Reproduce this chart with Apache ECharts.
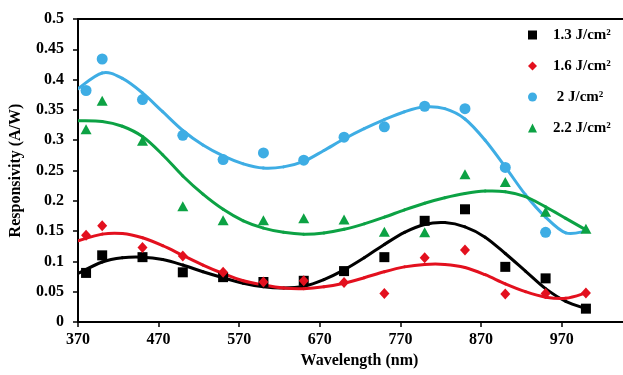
<!DOCTYPE html>
<html>
<head>
<meta charset="utf-8">
<script src="https://cdn.jsdelivr.net/npm/echarts@6/dist/echarts.min.js"></script>
<style>
html,body{margin:0;padding:0;background:#fff;}
#chart{width:623px;height:375px;}
</style>
</head>
<body>
<div id="chart"></div>
<script>
// Measured data points (wavelength in nm)
const wavelengths = [380, 400, 450, 500, 550, 600, 650, 700, 750, 800, 850, 900, 950, 1000];
const resp13 = [0.081, 0.110, 0.107, 0.082, 0.074, 0.066, 0.068, 0.084, 0.107, 0.167, 0.186, 0.091, 0.072, 0.022];
const resp16 = [0.143, 0.159, 0.123, 0.109, 0.082, 0.066, 0.068, 0.065, 0.047, 0.106, 0.119, 0.046, 0.047, 0.048];
const resp20 = [0.382, 0.434, 0.367, 0.308, 0.268, 0.279, 0.267, 0.305, 0.322, 0.356, 0.352, 0.255, 0.148, null];
const resp22 = [0.318, 0.365, 0.299, 0.191, 0.168, 0.168, 0.171, 0.169, 0.149, 0.148, 0.244, 0.231, 0.182, 0.154];

// Trend curves
const trendX = [370, 400, 425, 450, 475, 500, 525, 550, 575, 600, 625, 650, 675, 700, 725, 750, 775, 800, 825, 850, 875, 900, 925, 950, 975, 1000];
const trend13 = [0.080, 0.099, 0.106, 0.107, 0.103, 0.094, 0.083, 0.073, 0.064, 0.058, 0.056, 0.059, 0.070, 0.086, 0.106, 0.128, 0.148, 0.161, 0.164, 0.157, 0.140, 0.113, 0.084, 0.055, 0.034, 0.022];
const trend16 = [0.134, 0.145, 0.146, 0.139, 0.126, 0.110, 0.094, 0.080, 0.068, 0.061, 0.056, 0.055, 0.058, 0.064, 0.073, 0.083, 0.091, 0.095, 0.095, 0.090, 0.078, 0.063, 0.050, 0.041, 0.039, 0.048];
const trend20 = [0.385, 0.411, 0.402, 0.378, 0.347, 0.316, 0.292, 0.274, 0.261, 0.254, 0.256, 0.265, 0.283, 0.302, 0.319, 0.334, 0.347, 0.355, 0.352, 0.335, 0.300, 0.256, 0.210, 0.173, 0.147, 0.150];
const trend22 = [0.332, 0.331, 0.323, 0.306, 0.276, 0.241, 0.211, 0.186, 0.167, 0.155, 0.148, 0.145, 0.147, 0.153, 0.162, 0.173, 0.185, 0.196, 0.205, 0.212, 0.216, 0.215, 0.207, 0.190, 0.171, 0.152];

const seriesNames = ['1.3 J/cm²', '1.6 J/cm²', ' 2 J/cm²', '2.2 J/cm²'];
const colors = ['#000000', '#e3101e', '#3eade4', '#0ca244'];
const symbols = ['rect', 'diamond', 'circle', 'triangle'];
const symbolSizes = [10, [10, 11], 11, [11, 10]];
const pointSets = [resp13, resp16, resp20, resp22];
const trendSets = [trend13, trend16, trend20, trend22];

const FONT = 'Liberation Serif';
const zip = (xs, ys) => xs.map((x, i) => [x, ys[i]]).filter(p => p[1] !== null);

// Smooth curve through the read trend points (Catmull-Rom segments drawn via the axes' coordinates)
function makeTrendRenderer(color) {
  return function (params, api) {
    const i = params.dataIndex;
    const n = params.dataInsideLength !== undefined ? null : null;
    const data = this_data[params.seriesIndex];
    if (i >= data.length - 1) return null;
    const p = k => api.coord(data[Math.max(0, Math.min(data.length - 1, k))]);
    const P0 = p(i - 1), P1 = p(i), P2 = p(i + 1), P3 = p(i + 2);
    return {
      type: 'bezierCurve',
      shape: {
        x1: P1[0], y1: P1[1], x2: P2[0], y2: P2[1],
        cpx1: P1[0] + (P2[0] - P0[0]) / 6, cpy1: P1[1] + (P2[1] - P0[1]) / 6,
        cpx2: P2[0] - (P3[0] - P1[0]) / 6, cpy2: P2[1] - (P3[1] - P1[1]) / 6
      },
      style: { stroke: color, lineWidth: 3, fill: null, lineCap: 'round' },
      silent: true
    };
  };
}

const this_data = {};
const series = [];
trendSets.forEach((t, i) => {
  const d = zip(trendX, t);
  this_data[series.length] = d;
  series.push({
    name: seriesNames[i] + ' trend',
    type: 'custom',
    renderItem: makeTrendRenderer(colors[i]),
    data: d,
    encode: { x: 0, y: 1 },
    clip: true,
    silent: true,
    z: 2
  });
});
pointSets.forEach((p, i) => {
  series.push({
    name: seriesNames[i],
    type: 'scatter',
    symbol: symbols[i],
    symbolSize: symbolSizes[i],
    data: zip(wavelengths, p),
    itemStyle: { color: colors[i], opacity: 1 },
    z: 3
  });
});

const chart = echarts.init(document.getElementById('chart'), null, { renderer: 'canvas' });
chart.setOption({
  animation: false,
  backgroundColor: '#fff',
  grid: { left: 77, right: 0, top: 19, bottom: 53 },
  legend: {
    data: seriesNames,
    orient: 'vertical',
    left: 523,
    top: 22,
    itemWidth: 9,
    itemHeight: 9,
    itemGap: 15,
    textStyle: { fontFamily: FONT, fontWeight: 'bold', fontSize: 15, color: '#000', lineHeight: 16, padding: [0, 0, 0, 11] }
  },
  xAxis: [{
    type: 'value',
    min: 370,
    max: 1046,
    interval: 100,
    name: 'Wavelength (nm)',
    nameLocation: 'middle',
    nameGap: 31,
    nameTextStyle: { fontFamily: FONT, fontWeight: 'bold', fontSize: 16, color: '#000', padding: [0, 0, 0, 18] },
    axisLine: { lineStyle: { color: '#000', width: 2 } },
    axisTick: { show: true, length: 5, lineStyle: { color: '#000', width: 1.5 } },
    axisLabel: {
      showMaxLabel: false,
      margin: 10,
      fontFamily: FONT, fontWeight: 'bold', fontSize: 16, color: '#000'
    },
    splitLine: { show: false }
  }, {
    type: 'value',
    position: 'top',
    min: 370,
    max: 1046,
    axisLine: { show: true, lineStyle: { color: '#000', width: 2 } },
    axisTick: { show: false },
    axisLabel: { show: false },
    splitLine: { show: false }
  }],
  yAxis: {
    type: 'value',
    min: 0,
    max: 0.5,
    interval: 0.05,
    name: 'Responsivity (A/W)',
    nameLocation: 'middle',
    nameGap: 54,
    nameTextStyle: { fontFamily: FONT, fontWeight: 'bold', fontSize: 16, color: '#000' },
    axisLine: { show: true, lineStyle: { color: '#000', width: 2 } },
    axisTick: { show: true, length: 5, lineStyle: { color: '#000', width: 1.5 } },
    axisLabel: {
      margin: 14,
      fontFamily: FONT, fontWeight: 'bold', fontSize: 16, color: '#000',
      formatter: v => String(Math.round(v * 100) / 100)
    },
    splitLine: { show: false }
  },
  series: series
});
</script>
</body>
</html>
